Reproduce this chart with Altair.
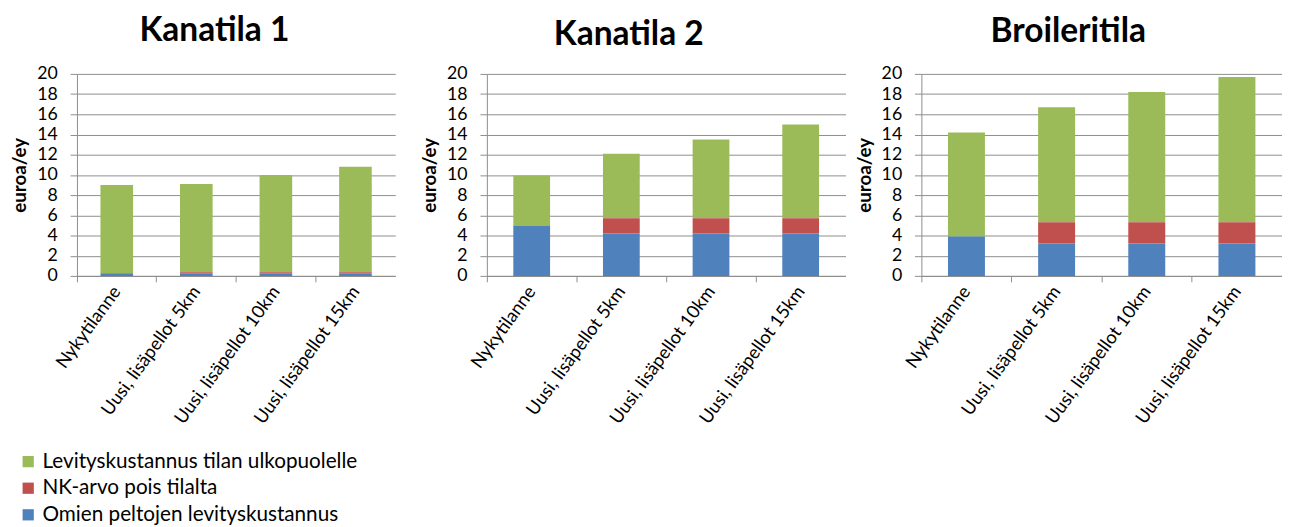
import altair as alt
import pandas as pd

panels = ["Kanatila 1", "Kanatila 2", "Broileritila"]
categories = ["Nykytilanne", "Uusi, lisäpellot 5km", "Uusi, lisäpellot 10km", "Uusi, lisäpellot 15km"]
series = ["Levityskustannus tilan ulkopuolelle", "NK-arvo pois tilalta", "Omien peltojen levityskustannus"]
colors = ["#9BBB59", "#C0504D", "#4F81BD"]
stack_order = [3, 2, 1]

k1_blue = [0.25, 0.25, 0.25, 0.25]
k1_red = [0.0, 0.1, 0.1, 0.1]
k1_green = [8.75, 8.75, 9.65, 10.45]

k2_blue = [5.0, 4.2, 4.2, 4.2]
k2_red = [0.0, 1.5, 1.5, 1.5]
k2_green = [4.95, 6.4, 7.8, 9.3]

br_blue = [3.9, 3.2, 3.2, 3.2]
br_red = [0.0, 2.1, 2.1, 2.1]
br_green = [10.3, 11.4, 12.9, 14.4]

values = {
    "Kanatila 1": [k1_green, k1_red, k1_blue],
    "Kanatila 2": [k2_green, k2_red, k2_blue],
    "Broileritila": [br_green, br_red, br_blue],
}
widths = {"Kanatila 1": 323, "Kanatila 2": 364, "Broileritila": 366}
title_dx = {"Kanatila 1": -22, "Kanatila 2": -38, "Broileritila": -34}
title_off = {"Kanatila 1": 17, "Kanatila 2": 13, "Broileritila": 16}

FONT = "Lato, Liberation Sans, sans-serif"
GRID = "#8c8c8c"


def make_panel(name):
    rows = []
    for s, vals, o in zip(series, values[name], stack_order):
        for c, v in zip(categories, vals):
            rows.append({"cat": c, "series": s, "value": v, "ord": o})
    df = pd.DataFrame(rows)
    return alt.Chart(df).mark_bar(width=alt.RelativeBandSize(0.41)).encode(
        x=alt.X("cat:N", sort=categories, title=None,
                scale=alt.Scale(paddingInner=0, paddingOuter=0),
                axis=alt.Axis(labelAngle=-54, labelFontSize=18.5, labelFont=FONT,
                              labelColor="#000", domainColor=GRID, tickColor=GRID,
                              bandPosition=0, tickSize=6, labelPadding=6,
                              labelLimit=300)),
        y=alt.Y("value:Q", stack="zero",
                scale=alt.Scale(domain=[0, 20]),
                axis=alt.Axis(title="euroa/ey", titleFontSize=19, titleFont=FONT,
                              titleFontWeight="bold", titleColor="#000",
                              values=list(range(0, 21, 2)), labelFontSize=18,
                              labelFont=FONT, labelColor="#000",
                              gridColor=GRID, gridOpacity=1, domainColor=GRID,
                              tickColor=GRID, tickSize=7, labelPadding=13,
                              titlePadding=7)),
        color=alt.Color("series:N", sort=series,
                        scale=alt.Scale(domain=series, range=colors),
                        legend=alt.Legend(title=None, orient="none", legendX=-60, legendY=383,
                                          direction="vertical", symbolType="square",
                                          symbolSize=130, symbolStrokeWidth=0,
                                          labelFontSize=21, labelFont=FONT,
                                          labelColor="#000", rowPadding=5,
                                          labelLimit=500)),
        order=alt.Order("ord:Q", sort="ascending"),
    ).properties(
        width=widths[name], height=205,
        title=alt.TitleParams(name, fontSize=34, font=FONT, fontWeight="bold",
                              color="#000", offset=title_off[name], dx=title_dx[name]),
    )


p1, p2, p3 = [make_panel(p) for p in panels]
chart = alt.hconcat(alt.hconcat(p1, p2, spacing=26), p3, spacing=10).configure_view(
    stroke=None
).properties(padding={"left": 3, "top": 3, "right": 0, "bottom": 0})

chart.save("out.html", embed_options={"renderer": "svg", "actions": False})
